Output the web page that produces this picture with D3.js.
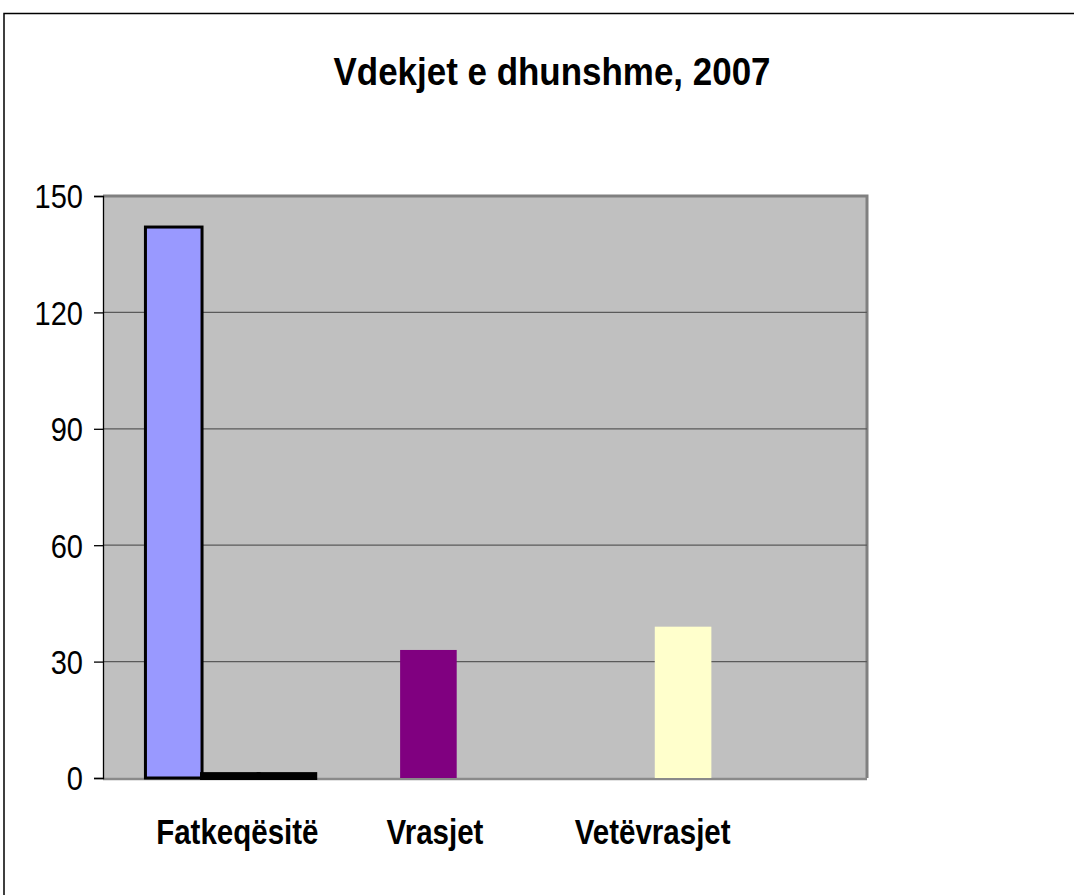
<!DOCTYPE html>
<html><head><meta charset="utf-8">
<script src="https://cdn.jsdelivr.net/npm/d3@7"></script>
<style>body{margin:0;background:#fff}svg{display:block}</style>
</head><body>
<svg id="c" width="1074" height="895"></svg>
<script>
const title = "Vdekjet e dhunshme, 2007";
const categories = ["Fatkeqësitë", "Vrasjet", "Vetëvrasjet"];
const seriesNames = ["S1", "S2", "S3"];
const series1 = [142, 33, 39];
const series2 = [1, 0, 0];
const series3 = [1, 0, 0];
const yTicks = [0, 30, 60, 90, 120, 150];
const pointColors = ["#9999FF", "#800080", "#FFFFCC"];

const plot = {left: 103, right: 867, top: 196, bottom: 778};
const labelShift = [7, -50, -87];
const font = "'Liberation Sans', Arial, sans-serif";

const svg = d3.select("#c");
// outer chart border
svg.append("rect").attr("x", 4).attr("y", 13.5).attr("width", 1200).attr("height", 1000)
  .attr("fill", "#fff").attr("stroke", "#000").attr("stroke-width", 1.5);

const x0 = d3.scaleBand().domain(categories).range([plot.left, plot.right]).paddingInner(0).paddingOuter(0);
const x1 = d3.scaleBand().domain(seriesNames).range([0, x0.bandwidth()]).paddingInner(0).paddingOuter(0.75);
const y = d3.scaleLinear().domain([0, 150]).range([plot.bottom, plot.top]);

// plot area
svg.append("rect").attr("x", plot.left).attr("y", plot.top).attr("width", plot.right - plot.left)
  .attr("height", plot.bottom - plot.top).attr("fill", "#C0C0C0");
// top & right border (dark gray)
svg.append("path").attr("d", `M${plot.left},${plot.top}H${plot.right}V${plot.bottom}`)
  .attr("fill", "none").attr("stroke", "#808080").attr("stroke-width", 3);

// gridlines
svg.append("g").selectAll("line").data(yTicks.filter(d => d > 0 && d < 150)).join("line")
  .attr("x1", plot.left).attr("x2", plot.right)
  .attr("y1", d => y(d)).attr("y2", d => y(d))
  .attr("stroke", "#5a5a5a").attr("stroke-width", 1.3);

// bottom axis line
svg.append("line").attr("x1", plot.left).attr("x2", plot.right).attr("y1", plot.bottom + 1).attr("y2", plot.bottom + 1)
  .attr("stroke", "#8a8a8a").attr("stroke-width", 2.5);

// bars
const rows = [];
categories.forEach((c, i) => {
  rows.push({cat: c, s: "S1", v: series1[i], fill: pointColors[i], stroke: i === 0 ? "#000" : "none", sw: 3});
  rows.push({cat: c, s: "S2", v: series2[i], fill: "#000", stroke: "#000", sw: 4});
  rows.push({cat: c, s: "S3", v: series3[i], fill: "#000", stroke: "#000", sw: 4});
});
svg.append("g").selectAll("rect").data(rows.filter(d => d.v > 0)).join("rect")
  .attr("x", d => x0(d.cat) + x1(d.s))
  .attr("width", x1.bandwidth())
  .attr("y", d => y(d.v))
  .attr("height", d => y(0) - y(d.v))
  .attr("fill", d => d.fill)
  .attr("stroke", d => d.stroke)
  .attr("stroke-width", d => d.stroke === "none" ? 0 : d.sw);

// y axis
const yAxis = d3.axisLeft(y).tickValues(yTicks).tickSize(9).tickPadding(10);
const ga = svg.append("g").attr("transform", `translate(${plot.left},0)`).call(yAxis);
ga.select(".domain").attr("stroke", "#000").attr("stroke-width", 1.3);
ga.selectAll(".tick line").attr("stroke", "#000").attr("stroke-width", 1.3);
ga.selectAll(".tick text").attr("font-family", font).attr("font-size", 33).attr("fill", "#000")
  .attr("x", 0).attr("dy", "0.36em")
  .attr("transform", "translate(-20,0) scale(0.88,1)");

// category labels
svg.append("g").selectAll("text").data(categories).join("text")
  .attr("transform", (d, i) => `translate(${x0(d) + x0.bandwidth() / 2 + labelShift[i]},844) scale(0.82,1)`)
  .attr("text-anchor", "middle")
  .attr("font-family", font).attr("font-weight", "bold").attr("font-size", 36)
  .text(d => d);

// title
svg.append("text").attr("transform", "translate(552,85) scale(0.92,1)").attr("text-anchor", "middle")
  .attr("font-family", font).attr("font-weight", "bold").attr("font-size", 38)
  .text(title);
</script>
</body></html>
